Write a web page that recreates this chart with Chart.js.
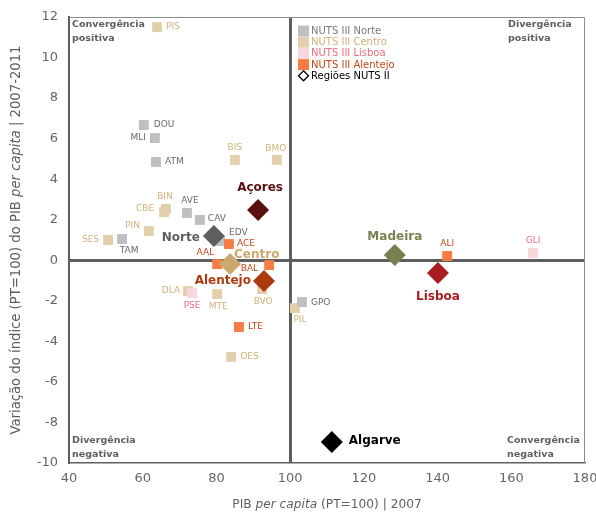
<!DOCTYPE html>
<html>
<head>
<meta charset="utf-8">
<script src="https://cdn.jsdelivr.net/npm/chart.js@4"></script>
<style>
  html, body { margin: 0; padding: 0; background: #fff; }
  #wrap { width: 596px; height: 513px; }
</style>
</head>
<body>
<div id="wrap"><canvas id="chart" width="596" height="513"></canvas></div>
<script>
// データ (x: PIB per capita 2007, y: variação 2007-2011)
const norteCodes = ['DOU', 'MLI', 'ATM', 'AVE', 'CAV', 'EDV', 'TAM', 'GPO'];
const norteX = [60.3, 63.3, 63.6, 72.0, 75.5, 81.0, 54.4, 103.2];
const norteY = [6.67, 6.03, 4.85, 2.33, 1.99, 0.95, 1.05, -2.06];

const centroCodes = ['PIS', 'BIS', 'BMO', 'BIN', 'CBE', 'PIN', 'SES', 'DLA', 'MTE', 'BVO', 'PIL', 'OES'];
const centroX = [63.9, 85.0, 96.4, 66.3, 65.8, 61.7, 50.6, 72.3, 80.2, 92.4, 101.3, 84.0];
const centroY = [11.5, 4.95, 4.95, 2.53, 2.38, 1.44, 1.0, -1.52, -1.67, -1.42, -2.36, -4.77];

const lisboaCodes = ['PSE', 'GLI'];
const lisboaX = [73.4, 165.9];
const lisboaY = [-1.62, 0.36];

const alentejoCodes = ['ACE', 'AAL', 'BAL', 'LTE', 'ALI'];
const alentejoX = [83.4, 80.2, 94.3, 86.1, 142.6];
const alentejoY = [0.8, -0.19, -0.24, -3.29, 0.21];

const nuts2Names = ['Norte', 'Centro', 'Alentejo', 'Açores', 'Madeira', 'Lisboa', 'Algarve'];
const nuts2X = [79.3, 83.7, 92.9, 91.3, 128.4, 140.1, 111.3];
const nuts2Y = [1.2, -0.19, -1.02, 2.48, 0.26, -0.63, -8.97];

const legendLabels = ['NUTS III Norte', 'NUTS III Centro', 'NUTS III Lisboa', 'NUTS III Alentejo', 'Regiões NUTS II'];
const xTicks = [40, 60, 80, 100, 120, 140, 160, 180];
const yTicks = [-10, -8, -6, -4, -2, 0, 2, 4, 6, 8, 10, 12];

// 色
const nuts2Colors = ['#5e5e5e', '#c9a96e', '#ad3a0e', '#5a1010', '#7a7f52', '#a81c22', '#000000'];
const FONT = '"DejaVu Sans", Verdana, sans-serif';
const GREY = '#5f5f5f';

// ラベル位置 [align, dx, dy]  (l = 右側に左寄せ, r = 左側に右寄せ, c = 中央)
const labelPos = {
    DOU: ['l', 10, 0], MLI: ['r', -9, 0], ATM: ['l', 9, 0], AVE: ['c', 3, -12],
    CAV: ['l', 8, -1], EDV: ['l', 9, -8], TAM: ['c', 7, 12], GPO: ['l', 9, 1],
    PIS: ['l', 9, 0], BIS: ['c', 0, -12], BMO: ['c', -1, -11], BIN: ['c', -1, -12],
    CBE: ['r', -10, -3], PIN: ['r', -9, -5], SES: ['r', -9, 0], DLA: ['r', -8, 0],
    MTE: ['c', 1, 13], BVO: ['c', 1, 13], PIL: ['c', 5, 12], OES: ['l', 9, 0],
    PSE: ['c', 0, 13], GLI: ['c', 0, -12],
    ACE: ['l', 8, 0], AAL: ['r', -3, -11], BAL: ['r', -11, 4], LTE: ['l', 9, 0], ALI: ['c', 0, -12],
    Norte: ['r', -14, 2], Centro: ['l', 4, -9], Alentejo: ['r', -13, 0], 'Açores': ['c', 2, -22],
    Madeira: ['c', 0, -18], Lisboa: ['c', 0, 24], Algarve: ['l', 17, -1]
};

function toPoints(xs, ys) {
    return xs.map((x, i) => ({ x: x, y: ys[i] }));
}

// 点ラベル・凡例・象限テキスト・軸タイトルを描画
const annotatePlugin = {
    id: 'annotate',
    afterDraw(chart) {
        const ctx = chart.ctx;
        const area = chart.chartArea;
        ctx.save();

        // 上・右の枠線
        ctx.strokeStyle = '#8c8c8c';
        ctx.lineWidth = 1;
        ctx.beginPath();
        ctx.moveTo(area.left, area.top + 0.5);
        ctx.lineTo(area.right - 0.5, area.top + 0.5);
        ctx.lineTo(area.right - 0.5, area.bottom);
        ctx.stroke();

        // 点ラベル
        ctx.textBaseline = 'middle';
        chart.data.datasets.forEach((ds, di) => {
            const meta = chart.getDatasetMeta(di);
            ds.codes.forEach((code, i) => {
                const el = meta.data[i];
                const pos = labelPos[code] || ['l', 9, 0];
                ctx.font = ds.bold ? 'bold 12px ' + FONT : '9px ' + FONT;
                ctx.fillStyle = ds.labelColors ? ds.labelColors[i] : ds.labelColor;
                ctx.textAlign = pos[0] === 'l' ? 'left' : (pos[0] === 'r' ? 'right' : 'center');
                ctx.fillText(code, el.x + pos[1], el.y + pos[2]);
            });
        });

        // 凡例
        const legendColors = ['#bfbfbf', '#e2cfab', '#f9d8dc', '#f57c45'];
        const legendText = ['#7a7a7a', '#d2b27e', '#ee6f7c', '#c24a18', '#000000'];
        ctx.font = '10px ' + FONT;
        ctx.textAlign = 'left';
        legendLabels.forEach((label, i) => {
            const y = area.top + 14 + i * 11.2;
            const x = 298;
            if (i < 4) {
                ctx.fillStyle = legendColors[i];
                ctx.fillRect(x, y - 5.5, 11, 11);
            } else {
                ctx.strokeStyle = '#000';
                ctx.lineWidth = 1.3;
                ctx.beginPath();
                ctx.moveTo(x + 5.5, y - 5);
                ctx.lineTo(x + 10.5, y);
                ctx.lineTo(x + 5.5, y + 5);
                ctx.lineTo(x + 0.5, y);
                ctx.closePath();
                ctx.stroke();
            }
            ctx.fillStyle = legendText[i];
            ctx.fillText(label, x + 13, y + 0.5);
        });

        // 象限テキスト
        ctx.font = 'bold 9.5px ' + FONT;
        ctx.fillStyle = GREY;
        ctx.textAlign = 'left';
        ctx.fillText('Convergência', area.left + 3, area.top + 8);
        ctx.fillText('positiva', area.left + 3, area.top + 22);
        ctx.fillText('Divergência', area.left + 3, area.bottom - 22);
        ctx.fillText('negativa', area.left + 3, area.bottom - 8);
        ctx.fillText('Divergência', area.right - 77, area.top + 8);
        ctx.fillText('positiva', area.right - 77, area.top + 22);
        ctx.fillText('Convergência', area.right - 78, area.bottom - 22);
        ctx.fillText('negativa', area.right - 78, area.bottom - 8);

        // 軸タイトル (per capita はイタリック)
        const xParts = [['PIB ', ''], ['per capita', 'italic '], [' (PT=100) | 2007', '']];
        drawMixed(ctx, xParts, (area.left + area.right) / 2, 505, 12.2);
        const yParts = [['Variação do índice (PT=100) do PIB ', ''], ['per capita', 'italic '], [' | 2007-2011', '']];
        ctx.save();
        ctx.translate(17, (area.top + area.bottom) / 2);
        ctx.rotate(-Math.PI / 2);
        drawMixed(ctx, yParts, 0, 0, 13.2);
        ctx.restore();

        ctx.restore();
    }
};

function drawMixed(ctx, parts, cx, cy, size) {
    ctx.fillStyle = GREY;
    ctx.textAlign = 'left';
    ctx.textBaseline = 'middle';
    let total = 0;
    parts.forEach(p => {
        ctx.font = p[1] + size + 'px ' + FONT;
        total += ctx.measureText(p[0]).width;
    });
    let x = cx - total / 2;
    parts.forEach(p => {
        ctx.font = p[1] + size + 'px ' + FONT;
        ctx.fillText(p[0], x, cy);
        x += ctx.measureText(p[0]).width;
    });
}

const squareStyle = { pointStyle: 'rect', pointRadius: 7, pointHoverRadius: 7, borderWidth: 0, showLine: false };

new Chart(document.getElementById('chart'), {
    type: 'scatter',
    data: {
        datasets: [
            {
                label: 'Regiões NUTS II', codes: nuts2Names, bold: true, labelColors: nuts2Colors,
                data: toPoints(nuts2X, nuts2Y),
                pointStyle: 'rectRot', pointRadius: 11, pointHoverRadius: 11, borderWidth: 0,
                backgroundColor: nuts2Colors, pointBackgroundColor: nuts2Colors
            },
            Object.assign({
                label: 'NUTS III Alentejo', codes: alentejoCodes, labelColor: '#c24a18',
                data: toPoints(alentejoX, alentejoY), backgroundColor: '#f57c45'
            }, squareStyle),
            Object.assign({
                label: 'NUTS III Lisboa', codes: lisboaCodes, labelColor: '#ee6f7c',
                data: toPoints(lisboaX, lisboaY), backgroundColor: '#f9d8dc'
            }, squareStyle),
            Object.assign({
                label: 'NUTS III Norte', codes: norteCodes, labelColor: '#6a6a6a',
                data: toPoints(norteX, norteY), backgroundColor: '#bfbfbf'
            }, squareStyle),
            Object.assign({
                label: 'NUTS III Centro', codes: centroCodes, labelColor: '#d2b27e',
                data: toPoints(centroX, centroY), backgroundColor: '#e2cfab'
            }, squareStyle)
        ]
    },
    options: {
        responsive: false,
        animation: false,
        events: [],
        layout: { padding: { top: 17, right: 11, left: 0, bottom: 0 } },
        plugins: {
            legend: { display: false },
            tooltip: { enabled: false }
        },
        scales: {
            x: {
                type: 'linear',
                min: 40, max: 180,
                afterBuildTicks: scale => { scale.ticks = xTicks.map(v => ({ value: v })); },
                afterFit: scale => {
                    scale.height = 50;
                    scale.paddingLeft = 0;
                    scale.paddingRight = 0;
                },
                ticks: { color: '#666666', font: { family: FONT, size: 13 }, padding: 8, maxRotation: 0 },
                grid: {
                    drawTicks: false,
                    color: c => (c.tick && c.tick.value === 100) ? GREY : 'rgba(0,0,0,0)',
                    lineWidth: c => (c.tick && c.tick.value === 100) ? 3 : 1
                },
                border: { color: GREY, width: 1.5 }
            },
            y: {
                type: 'linear',
                min: -10, max: 12,
                afterBuildTicks: scale => { scale.ticks = yTicks.map(v => ({ value: v })); },
                afterFit: scale => {
                    scale.width = 69;
                    scale.paddingTop = 0;
                    scale.paddingBottom = 0;
                },
                ticks: { color: '#666666', font: { family: FONT, size: 13 }, padding: 11 },
                grid: {
                    drawTicks: false,
                    color: c => (c.tick && c.tick.value === 0) ? GREY : 'rgba(0,0,0,0)',
                    lineWidth: c => (c.tick && c.tick.value === 0) ? 3 : 1
                },
                border: { color: GREY, width: 2 }
            }
        }
    },
    plugins: [annotatePlugin]
});
</script>
</body>
</html>
